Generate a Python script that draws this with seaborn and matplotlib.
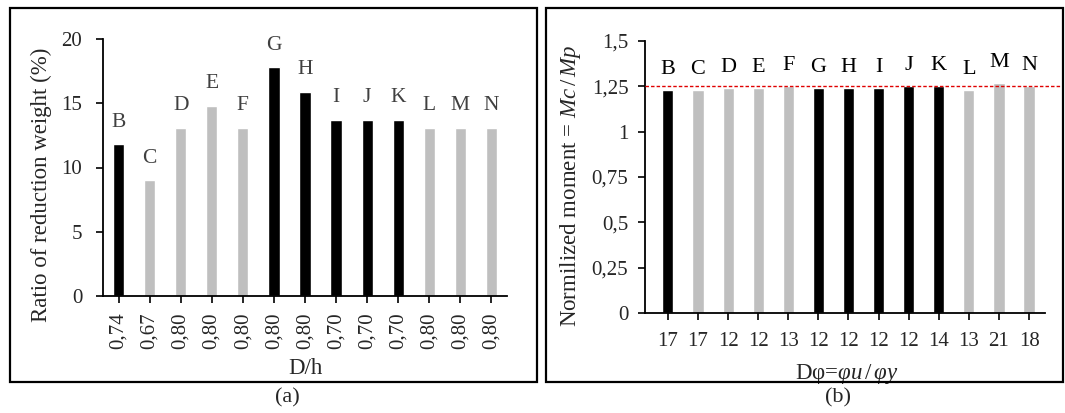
import numpy as np
import pandas as pd
import matplotlib
matplotlib.use("Agg")
import matplotlib.pyplot as plt
from matplotlib.patches import Rectangle
import seaborn as sns

# data
specimens = ["B", "C", "D", "E", "F", "G", "H", "I", "J", "K", "L", "M", "N"]
weight_reduction = [11.8, 9.0, 13.1, 14.8, 13.1, 17.8, 15.9, 13.7, 13.7, 13.7, 13.1, 13.1, 13.1]
d_over_h = ["0,74", "0,67", "0,80", "0,80", "0,80", "0,80", "0,80", "0,70", "0,70", "0,70", "0,80", "0,80", "0,80"]
norm_moment = [1.23, 1.23, 1.24, 1.24, 1.25, 1.24, 1.24, 1.24, 1.25, 1.25, 1.23, 1.27, 1.25]
ductility = ["17", "17", "12", "12", "13", "12", "12", "12", "12", "14", "13", "21", "18"]
dark = ["B", "G", "H", "I", "J", "K"]
limit = 1.25

sns.set_style("ticks")
plt.rcParams["font.family"] = ["Liberation Serif", "DejaVu Serif"]
plt.rcParams["mathtext.fontset"] = "custom"
plt.rcParams["mathtext.rm"] = "Liberation Serif"
plt.rcParams["mathtext.it"] = "Liberation Serif:italic"

pal = {s: ("#000000" if s in dark else "#bfbfbf") for s in specimens}
df = pd.DataFrame({"spec": specimens, "w": weight_reduction, "m": norm_moment})

W, H = 1065, 413
TICK = 15
LAB = 16.5
fig = plt.figure(figsize=(W / 100, H / 100), dpi=100)

def px_axes(l, r, t, b):
    return fig.add_axes([l / W, 1 - b / H, (r - l) / W, (b - t) / H])

def style(ax):
    sns.despine(ax=ax)
    for s in ["left", "bottom"]:
        ax.spines[s].set_linewidth(1.3)
        ax.spines[s].set_color("black")
    ax.tick_params(axis="both", length=5, width=1.2, color="black", labelsize=TICK)

# ---- (a)
ax1 = px_axes(103, 507, 39, 296)
sns.barplot(data=df, x="spec", y="w", hue="spec", palette=pal, legend=False,
            width=0.36, ax=ax1, saturation=1)
ax1.set_ylim(0, 20)
ax1.set_xlim(-0.5, 12.5)
ax1.set_yticks([0, 5, 10, 15, 20])
ax1.set_xticks(range(len(specimens)))
ax1.set_xticklabels(d_over_h, rotation=90)
style(ax1)
ax1.tick_params(axis="y", pad=10)
ax1.tick_params(axis="x", pad=7)
ax1.set_xlabel("D/h", fontsize=LAB)
ax1.xaxis.set_label_coords(0.5, -0.241)
ax1.xaxis.label.set_va("top")
ax1.set_ylabel("Ratio of reduction weight (%)", fontsize=LAB)
ax1.yaxis.set_label_coords(-0.125, 0.432)
for i, (s, v) in enumerate(zip(specimens, weight_reduction)):
    ax1.annotate(s, (i, v), xytext=(0, 9), textcoords="offset points",
                 ha="center", va="bottom", fontsize=15.5, color="#404040")

# ---- (b)
ax2 = px_axes(645, 1045, 41, 313)
sns.barplot(data=df, x="spec", y="m", hue="spec", palette=pal, legend=False,
            width=0.37, ax=ax2, saturation=1)
ax2.set_ylim(0, 1.5)
ax2.set_xlim(-0.76, 12.53)
ax2.set_yticks([0, 0.25, 0.5, 0.75, 1, 1.25, 1.5])
ax2.set_yticklabels(["0", "0,25", "0,5", "0,75", "1", "1,25", "1,5"])
ax2.set_xticks(range(len(specimens)))
ax2.set_xticklabels(ductility)
style(ax2)
ax2.tick_params(axis="y", pad=7)
ax2.tick_params(axis="x", pad=9)
ax2.axhline(limit, xmin=0, xmax=(1063 - 645) / 400, color="#e00000", lw=1.0,
            ls=(0, (2.5, 1.5)), clip_on=False, zorder=5)
ax2.set_xlabel(r"D$\mathrm{\varphi}$=$\varphi u\,/\,\varphi y$", fontsize=LAB)
ax2.xaxis.set_label_coords(0.505, -0.18)
ax2.xaxis.label.set_va("top")
ax2.set_ylabel(r"Normilized moment = $Mc\,/\,Mp$", fontsize=LAB)
ax2.yaxis.set_label_coords(-0.155, 0.467)
for i, (s, v) in enumerate(zip(specimens, norm_moment)):
    ax2.annotate(s, (i, v), xytext=(0, 8), textcoords="offset points",
                 ha="center", va="bottom", fontsize=16, color="black")

# panel frames and captions
for x0, x1 in [(10, 537), (546, 1063)]:
    fig.patches.append(Rectangle((x0 / W, 1 - 382 / H), (x1 - x0) / W, 374 / H,
                                 transform=fig.transFigure, fill=False,
                                 edgecolor="black", lw=1.6))
fig.text(287 / W, 1 - 398 / H, "(a)", ha="center", va="center", fontsize=16)
fig.text(838 / W, 1 - 398 / H, "(b)", ha="center", va="center", fontsize=16)

fig.savefig("out.png", dpi=100)
